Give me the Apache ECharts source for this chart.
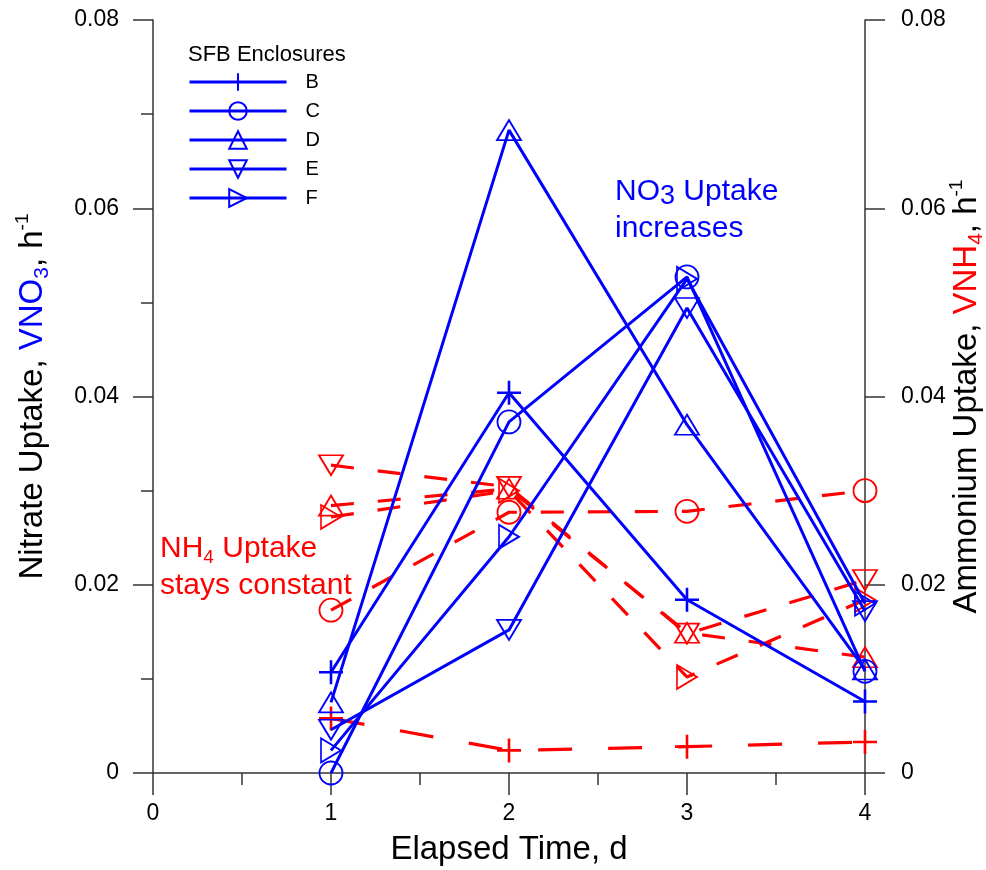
<!DOCTYPE html>
<html>
<head>
<meta charset="utf-8">
<script src="https://cdn.jsdelivr.net/npm/echarts@6/dist/echarts.min.js"></script>
<style>
  html, body { margin: 0; padding: 0; background: #fff; overflow: hidden; }
  #chart { width: 986px; height: 870px; }
</style>
</head>
<body>
<div id="chart"></div>
<script>
// Elapsed time (days)
const days = [1, 2, 3, 4];

// Nitrate uptake VNO3 (h^-1) per enclosure
const no3B = [0.0107, 0.0404, 0.0184, 0.0076];
const no3C = [0.0000, 0.0373, 0.0527, 0.0108];
const no3D = [0.0075, 0.0683, 0.0370, 0.0110];
const no3E = [0.0046, 0.0152, 0.0494, 0.0172];
const no3F = [0.0024, 0.0251, 0.0525, 0.0180];

// Ammonium uptake VNH4 (h^-1) per enclosure
const nh4B = [0.0058, 0.0024, 0.0028, 0.0033];
const nh4C = [0.0173, 0.0277, 0.0278, 0.0300];
const nh4D = [0.0284, 0.0302, 0.0149, 0.0123];
const nh4E = [0.0327, 0.0304, 0.0148, 0.0205];
const nh4F = [0.0272, 0.0300, 0.0102, 0.0184];

const enclosures = ['B', 'C', 'D', 'E', 'F'];
const xTicks = [0, 1, 2, 3, 4];
const yMinor = [0.01, 0.03, 0.05, 0.07];

const BLUE = '#0000FF';
const RED = '#FF0000';
const AXIS = '#333333';
const FONT = '"Liberation Sans", Arial, Helvetica, sans-serif';

const PLUS = 'path://M12,0 L12,24 M0,12 L24,12';
const markers = {
  B: { symbol: PLUS, size: 24, rotate: 0, stroke: 2.6 },
  C: { symbol: 'circle', size: 23, rotate: 0, stroke: 1.8 },
  D: { symbol: 'triangle', size: [24, 20], rotate: 0, stroke: 1.8 },
  E: { symbol: 'triangle', size: [24, 20], rotate: 180, stroke: 1.8 },
  F: { symbol: 'triangle', size: [24, 20], rotate: -90, stroke: 1.8 }
};

const no3 = { B: no3B, C: no3C, D: no3D, E: no3E, F: no3F };
const nh4 = { B: nh4B, C: nh4C, D: nh4D, E: nh4E, F: nh4F };

function pairs(values) {
  return days.map((d, i) => [d, values[i]]);
}

function makeSeries(name, values, color, yAxisIndex, dashed, key) {
  const m = markers[key];
  return {
    name: name,
    type: 'line',
    yAxisIndex: yAxisIndex,
    data: pairs(values),
    symbol: m.symbol,
    symbolSize: m.size,
    symbolRotate: m.rotate,
    showAllSymbol: true,
    lineStyle: {
      color: color,
      width: dashed ? 3.2 : 3,
      type: dashed ? (key === 'B' ? [34, 36] : [23, 24]) : 'solid'
    },
    itemStyle: { color: 'rgba(255,255,255,0)', borderColor: color, borderWidth: m.stroke },
    emphasis: { disabled: true },
    z: dashed ? 2 : 3
  };
}

const series = [];
enclosures.forEach(k => series.push(makeSeries('NH4 ' + k, nh4[k], RED, 1, true, k)));
enclosures.forEach(k => series.push(makeSeries(k, no3[k], BLUE, 0, false, k)));

function yFmt(v) {
  if (Math.abs(v) < 1e-9) return '0';
  return v.toFixed(2);
}

const axisLineStyle = { color: AXIS, width: 1.5 };

function titleRich(accent) {
  return {
    a: { fontSize: 33, color: '#000', fontFamily: FONT, lineHeight: 40, verticalAlign: 'middle' },
    c: { fontSize: 33, color: accent, fontFamily: FONT, lineHeight: 40, verticalAlign: 'middle' },
    s: { fontSize: 21, color: accent, fontFamily: FONT, lineHeight: 21, verticalAlign: 'bottom' },
    sup: { fontSize: 19, color: '#000', fontFamily: FONT, lineHeight: 19, verticalAlign: 'top' }
  };
}

const option = {
  animation: false,
  backgroundColor: '#ffffff',
  textStyle: { fontFamily: FONT },
  grid: { left: 153, right: 121, top: 20, bottom: 97, containLabel: false, outerBoundsMode: 'none' },
  legend: {
    data: enclosures,
    orient: 'vertical',
    left: 188,
    top: 72,
    padding: 0,
    itemWidth: 97,
    itemHeight: 22,
    itemGap: 9,
    selectedMode: false,
    lineStyle: { width: 3 },
    textStyle: { fontSize: 20, color: '#000', fontFamily: FONT, padding: [0, 0, 0, 14] }
  },
  xAxis: {
    type: 'value',
    min: 0,
    max: 4,
    interval: 1,
    name: 'Elapsed Time, d',
    nameLocation: 'middle',
    nameGap: 60,
    nameMoveOverlap: false,
    nameTextStyle: { fontSize: 33, color: '#000', fontFamily: FONT },
    axisLine: { show: true, onZero: false, lineStyle: axisLineStyle },
    axisTick: { show: true, inside: false, length: 22, lineStyle: axisLineStyle },
    minorTick: { show: true, splitNumber: 2, length: 12, lineStyle: axisLineStyle },
    splitLine: { show: false },
    axisLabel: {
      fontSize: 23, color: '#000', margin: 29, fontFamily: FONT,
      formatter: v => (xTicks.includes(v) ? String(v) : '')
    }
  },
  yAxis: [
    {
      type: 'value',
      position: 'left',
      min: 0,
      max: 0.08,
      interval: 0.02,
      name: '{a|Nitrate Uptake, }{c|VNO}{s|3}{a|, h}{sup|-1}',
      nameLocation: 'middle',
      nameGap: 100,
      nameMoveOverlap: false,
      nameTextStyle: { fontFamily: FONT, rich: titleRich(BLUE) },
      axisLine: { show: true, onZero: false, lineStyle: axisLineStyle },
      axisTick: { show: true, inside: false, length: 20, lineStyle: axisLineStyle },
      minorTick: { show: true, splitNumber: 2, length: 11, lineStyle: axisLineStyle },
      splitLine: { show: false },
      axisLabel: { fontSize: 23, color: '#000', margin: 34, fontFamily: FONT, formatter: yFmt }
    },
    {
      type: 'value',
      position: 'right',
      min: 0,
      max: 0.08,
      interval: 0.02,
      name: '{a|Ammonium Uptake, }{c|VNH}{s|4}{a|, h}{sup|-1}',
      nameLocation: 'middle',
      nameGap: 82,
      nameMoveOverlap: false,
      nameTextStyle: { fontFamily: FONT, rich: titleRich(RED) },
      axisLine: { show: true, onZero: false, lineStyle: axisLineStyle },
      axisTick: { show: true, inside: false, length: 20, lineStyle: axisLineStyle },
      minorTick: { show: false },
      splitLine: { show: false },
      axisLabel: { fontSize: 23, color: '#000', margin: 36, fontFamily: FONT, formatter: yFmt }
    },
    {
      // inward minor ticks on the right-hand axis
      type: 'value',
      position: 'right',
      min: 0,
      max: 0.08,
      interval: 0.01,
      axisLine: { show: false },
      axisTick: { show: true, inside: true, length: 12, lineStyle: axisLineStyle, customValues: yMinor },
      axisLabel: { show: false },
      splitLine: { show: false }
    }
  ],
  graphic: [
    {
      type: 'text', left: 188, top: 44,
      style: { text: 'SFB Enclosures', fill: '#000', font: '22px ' + FONT }
    },
    {
      type: 'text', left: 615, top: 177,
      style: {
        text: '{n|NO}{s|3}{n| Uptake}\n{n|increases}',
        fill: BLUE,
        rich: {
          n: { fontSize: 30, fill: BLUE, fontFamily: FONT, lineHeight: 37, verticalAlign: 'middle' },
          s: { fontSize: 27, fill: BLUE, fontFamily: FONT, lineHeight: 32, verticalAlign: 'bottom' }
        }
      }
    },
    {
      type: 'text', left: 160, top: 534,
      style: {
        text: '{n|NH}{s|4}{n| Uptake}\n{n|stays constant}',
        fill: RED,
        rich: {
          n: { fontSize: 30, fill: RED, fontFamily: FONT, lineHeight: 37, verticalAlign: 'middle' },
          s: { fontSize: 19, fill: RED, fontFamily: FONT, lineHeight: 19, verticalAlign: 'bottom' }
        }
      }
    }
  ],
  series: series
};

const chart = echarts.init(document.getElementById('chart'), null, { renderer: 'canvas' });
chart.setOption(option);
</script>
</body>
</html>
